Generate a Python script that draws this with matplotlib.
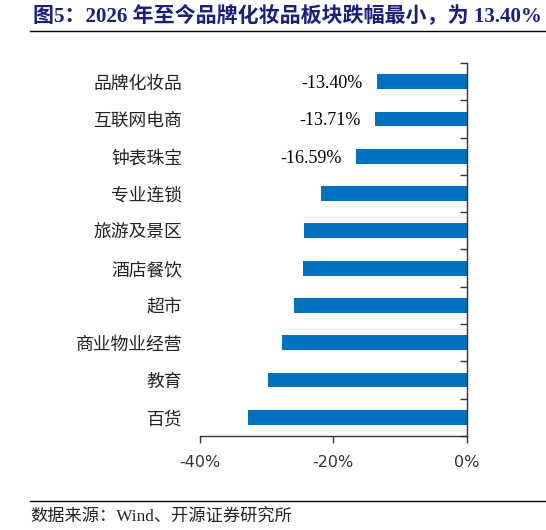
import matplotlib
matplotlib.use("Agg")
import matplotlib.pyplot as plt
from matplotlib.ticker import FixedLocator
import numpy as np

# Data (top to bottom)
categories = ["品牌化妆品", "互联网电商", "钟表珠宝", "专业连锁", "旅游及景区",
              "酒店餐饮", "超市", "商业物业经营", "教育", "百货"]
values = [-13.40, -13.71, -16.59, -21.9, -24.35, -24.5, -25.85, -27.7, -29.85, -32.75]
labeled = [True, True, True, False, False, False, False, False, False, False]
xticks = [-40, -20, 0]
xticklabels = ["-40%", "-20%", "0%"]

title = "图5：2026 年至今品牌化妆品板块跌幅最小，为 13.40%"
source = "数据来源：Wind、开源证券研究所"

serif_cjk = ["Liberation Serif", "Noto Sans CJK SC"]
cjk = ["Noto Sans CJK SC", "DejaVu Sans"]

fig = plt.figure(figsize=(5.46, 5.30), dpi=100)
ax = fig.add_axes([0.3663, 0.1774, 0.4884, 0.7037])

y = np.arange(len(categories))
ax.barh(y, values, height=0.4, color="#0070C0", zorder=2)
ax.set_ylim(len(categories) - 0.5, -0.5)
ax.set_xlim(-40, 0)

# data labels on the first three bars
for yi, v, show in zip(y, values, labeled):
    if show:
        ax.text(v - 2.2, yi + 0.05, f"{v:.2f}%", ha="right", va="center",
                fontsize=13, family="Liberation Serif", color="black")

# y axis: labels on left, tick marks on right spine between categories
ax.set_yticks(y)
ax.set_yticklabels(categories, family=cjk, fontsize=12.8, color="#222222")
ax.tick_params(axis="y", which="major", length=0, pad=13)
ax.yaxis.set_minor_locator(FixedLocator(np.arange(-0.5, len(categories), 1.0)))
ax.tick_params(axis="y", which="minor", left=False, right=True, direction="in",
               length=5, width=1, color="#333333")

ax.set_xticks(xticks)
ax.set_xticklabels(xticklabels, family="DejaVu Sans", fontsize=11.5, color="#333333")
ax.tick_params(axis="x", length=5, width=1, color="#333333", pad=9)

for side in ["left", "top"]:
    ax.spines[side].set_visible(False)
for side in ["right", "bottom"]:
    ax.spines[side].set_color("#333333")
    ax.spines[side].set_linewidth(1)

# title, rules and source
fig.text(33 / 546, 1 - 17 / 530, title, ha="left", va="center", fontsize=15.1,
         fontweight="bold", color="#1a1f7a", family=serif_cjk)
fig.add_artist(plt.Line2D([30 / 546, 1.0], [1 - 31 / 530] * 2, color="black", lw=1))
fig.add_artist(plt.Line2D([30 / 546, 1.0], [1 - 501 / 530] * 2, color="black", lw=1))
fig.text(30 / 546, 1 - 518 / 530, source, ha="left", va="center", fontsize=12.4,
         color="#222222", family=serif_cjk)

fig.savefig("out.png", dpi=100)
